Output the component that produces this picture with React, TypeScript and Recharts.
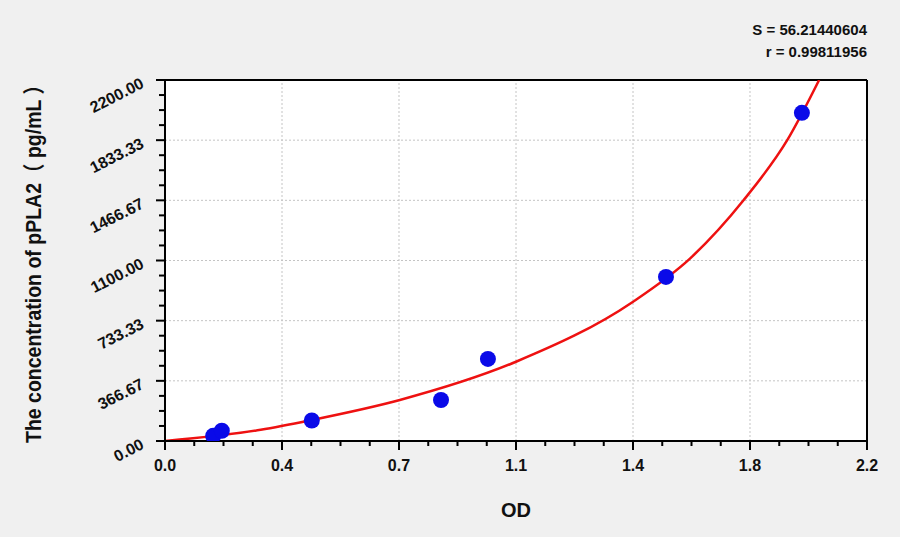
import React from "react";
import {
  ComposedChart,
  XAxis,
  YAxis,
  Scatter,
  Line,
  CartesianGrid,
  ReferenceLine,
} from "recharts";

// standard points
const odValues = [0.151, 0.178, 0.46, 0.865, 1.012, 1.57, 1.996];
const concValues = [31.25, 62.5, 125, 250, 500, 1000, 2000];

// fitted curve
const curveOd = [0, 0.3, 0.46, 0.736, 1.1, 1.467, 1.646, 1.813, 1.95, 2.05];
const curveConc = [0, 68, 128, 250, 483, 849, 1113, 1467, 1833, 2200];

const xMajor = [0, 0.36667, 0.73333, 1.1, 1.46667, 1.83333, 2.2];
const xLabels = ["0.0", "0.4", "0.7", "1.1", "1.4", "1.8", "2.2"];
const yMajor = [0, 366.67, 733.33, 1100, 1466.67, 1833.33, 2200];
const yLabels = ["0.00", "366.67", "733.33", "1100.00", "1466.67", "1833.33", "2200.00"];

const fitS = "S = 56.21440604";
const fitR = "r = 0.99811956";

const FONT = "'Liberation Sans', Arial, 'Noto Sans CJK SC', sans-serif";

// 3 minor ticks between each pair of major ticks
function withMinor(major: number[]) {
  const out: number[] = [];
  for (let i = 0; i < major.length - 1; i++) {
    const step = (major[i + 1] - major[i]) / 4;
    for (let k = 0; k < 4; k++) out.push(major[i] + step * k);
  }
  out.push(major[major.length - 1]);
  return out;
}

const xTicks = withMinor(xMajor);
const yTicks = withMinor(yMajor);

const points = odValues.map((od, i) => ({ od, conc: concValues[i] }));
const curve = curveOd.map((od, i) => ({ od, conc: curveConc[i] }));

function XTick(props: any) {
  const { x, y, index } = props;
  const major = index % 4 === 0;
  return (
    <g>
      <line x1={x} y1={y} x2={x} y2={y + (major ? 9 : 5)} stroke="#000" strokeWidth={2} />
      {major && (
        <text
          x={x}
          y={y + 30}
          textAnchor="middle"
          fontFamily={FONT}
          fontWeight="bold"
          fontSize={16}
          fill="#111"
        >
          {xLabels[index / 4]}
        </text>
      )}
    </g>
  );
}

function YTick(props: any) {
  const { x, y, index } = props;
  const major = index % 4 === 0;
  const tx = x - 20;
  const ty = y + 7;
  return (
    <g>
      <line x1={x} y1={y} x2={x - (major ? 9 : 6)} y2={y} stroke="#000" strokeWidth={2} />
      {major && (
        <text
          x={tx}
          y={ty}
          textAnchor="end"
          transform={`rotate(-27 ${tx} ${ty})`}
          fontFamily={FONT}
          fontWeight="bold"
          fontSize={16}
          fill="#111"
        >
          {yLabels[index / 4]}
        </text>
      )}
    </g>
  );
}

export default function App() {
  return (
    <div
      style={{
        position: "absolute",
        left: 0,
        top: 0,
        width: 900,
        height: 537,
        background: "#f0f0f0",
        fontFamily: FONT,
      }}
    >
      <ComposedChart
        width={900}
        height={537}
        margin={{ top: 80, right: 33, bottom: 56, left: 105 }}
      >
        <CartesianGrid horizontal={false} vertical={false} fill="#ffffff" />
        <XAxis
          dataKey="od"
          type="number"
          domain={[0, 2.2]}
          ticks={xTicks}
          interval={0}
          allowDataOverflow
          height={40}
          tickSize={0}
          tickMargin={0}
          tickLine={false}
          axisLine={{ stroke: "#000", strokeWidth: 2 }}
          tick={<XTick />}
        />
        <YAxis
          dataKey="conc"
          type="number"
          domain={[0, 2200]}
          ticks={yTicks}
          interval={0}
          allowDataOverflow
          width={60}
          tickSize={0}
          tickMargin={0}
          tickLine={false}
          axisLine={{ stroke: "#000", strokeWidth: 2 }}
          tick={<YTick />}
        />
        {xMajor.slice(1, -1).map((v) => (
          <ReferenceLine key={`gx${v}`} x={v} stroke="#c4c4c4" strokeDasharray="2 2" />
        ))}
        {yMajor.slice(1, -1).map((v) => (
          <ReferenceLine key={`gy${v}`} y={v} stroke="#c4c4c4" strokeDasharray="2 2" />
        ))}
        <ReferenceLine y={2200} stroke="#000" strokeWidth={2} />
        <ReferenceLine x={2.2} stroke="#000" strokeWidth={2} />
        <Scatter
          data={points}
          dataKey="conc"
          isAnimationActive={false}
          shape={(p: any) => <circle cx={p.cx} cy={p.cy} r={8} fill="#0a0ae8" />}
        />
        <Line
          data={curve}
          dataKey="conc"
          type="monotone"
          dot={false}
          stroke="#ee1111"
          strokeWidth={2.5}
          isAnimationActive={false}
        />
      </ComposedChart>
      <svg
        width={900}
        height={537}
        style={{ position: "absolute", left: 0, top: 0, pointerEvents: "none" }}
      >
        <text x={867} y={35} textAnchor="end" fontFamily={FONT} fontWeight="bold" fontSize={15} fill="#111">
          {fitS}
        </text>
        <text x={867} y={57} textAnchor="end" fontFamily={FONT} fontWeight="bold" fontSize={15} fill="#111">
          {fitR}
        </text>
        <text x={516} y={517} textAnchor="middle" fontFamily={FONT} fontWeight="bold" fontSize={20} fill="#111">
          OD
        </text>
        <text
          x={41}
          y={259}
          textAnchor="middle"
          transform="rotate(-90 41 259)"
          fontFamily={FONT}
          fontWeight="bold"
          fontSize={22}
          textLength={368}
          lengthAdjust="spacingAndGlyphs"
          fill="#111"
        >
          The concentration of  pPLA2（ pg/mL ）
        </text>
      </svg>
    </div>
  );
}
